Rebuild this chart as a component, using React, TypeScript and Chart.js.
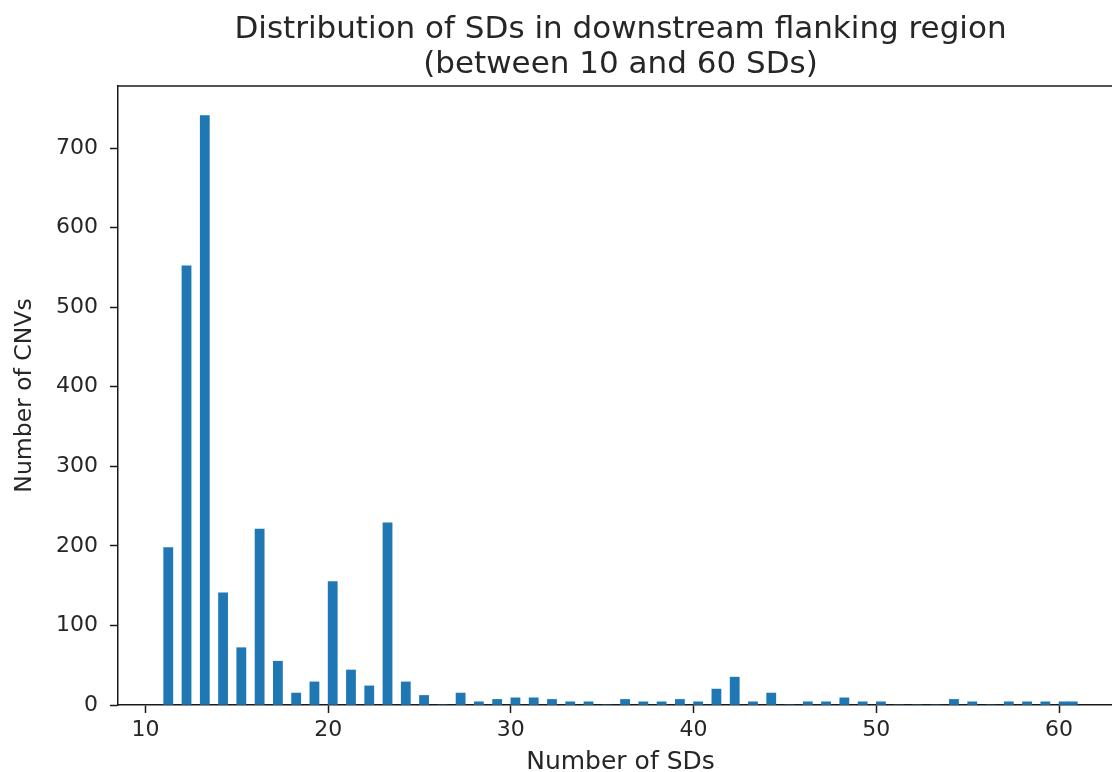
import React, { useEffect, useRef } from "react";
import { Chart, registerables } from "chart.js";

Chart.register(...registerables);

const sdValues = [11, 12, 13, 14, 15, 16, 17, 18, 19, 20, 21, 22, 23, 24, 25, 26, 27, 28, 29, 30, 31, 32, 33, 34, 35, 36, 37, 38, 39, 40, 41, 42, 43, 44, 45, 46, 47, 48, 49, 50, 51, 52, 53, 54, 55, 56, 57, 58, 59, 60, 61];
const cnvCounts = [198, 552, 741, 141, 72, 221, 55, 15, 29, 155, 44, 24, 229, 29, 12, 0, 15, 4, 7, 9, 9, 7, 4, 4, 0, 7, 4, 4, 7, 4, 20, 35, 4, 15, 0, 4, 4, 9, 4, 4, 0, 0, 0, 7, 4, 0, 4, 4, 4, 4, 4];
const xTickValues = [10, 20, 30, 40, 50, 60];
const yTickValues = [0, 100, 200, 300, 400, 500, 600, 700];
const titleLines = ["Distribution of SDs in downstream flanking region", "(between 10 and 60 SDs)"];
const xLabel = "Number of SDs";
const yLabel = "Number of CNVs";

// histogram binning (100 bins between min and max of the data)
const binCount = 100;
const dataMin = Math.min(...sdValues);
const dataMax = Math.max(...sdValues);
const binWidth = (dataMax - dataMin) / binCount;
const binCenter = (v: number) => {
  const idx = Math.min(Math.floor((v - dataMin) / binWidth), binCount - 1);
  return dataMin + (idx + 0.5) * binWidth;
};
const xMargin = (dataMax - dataMin) * 0.05;
const yMax = Math.max(...cnvCounts) * 1.05;

const FONT = "'DejaVu Sans', sans-serif";
const TEXT = "#262626";
const SPINE = "#1a1a1a";

const framePlugin = {
  id: "frame",
  afterDraw(chart: any) {
    const { ctx, chartArea } = chart;
    ctx.save();
    ctx.strokeStyle = SPINE;
    ctx.lineWidth = 1.5;
    ctx.beginPath();
    ctx.moveTo(chartArea.left, chartArea.top);
    ctx.lineTo(chartArea.right, chartArea.top);
    ctx.lineTo(chartArea.right, chartArea.bottom);
    ctx.stroke();
    ctx.restore();
  },
};

export default function App() {
  const ref = useRef<HTMLCanvasElement>(null);
  useEffect(() => {
    const canvas = ref.current!;
    const chart = new Chart(canvas, {
      type: "bar",
      data: {
        datasets: [
          {
            data: sdValues.map((v, i) => ({ x: binCenter(v), y: cnvCounts[i] })),
            backgroundColor: "#1f77b4",
            borderWidth: 0,
            barPercentage: 1,
            categoryPercentage: 1,
          },
        ],
      },
      options: {
        animation: false,
        responsive: false,
        devicePixelRatio: 1,
        layout: { padding: { left: 0, right: 7, top: 0, bottom: 0 } },
        plugins: {
          legend: { display: false },
          tooltip: { enabled: false },
          title: {
            display: true,
            fullSize: false,
            text: titleLines,
            color: TEXT,
            font: { family: FONT, size: 31, weight: "normal", lineHeight: 1.14 },
            padding: { top: 12, bottom: 3.3 },
          },
        },
        scales: {
          x: {
            type: "linear",
            min: dataMin - xMargin,
            max: dataMax + xMargin,
            offset: false,
            afterBuildTicks: (s: any) => {
              s.ticks = xTickValues.map((value) => ({ value }));
            },
            afterFit: (s: any) => {
              s.height = 67;
            },
            grid: { display: true, drawOnChartArea: false, drawTicks: true, tickLength: 8, tickWidth: 1.5, color: SPINE, offset: false },
            border: { display: true, color: SPINE, width: 1.5 },
            ticks: { color: TEXT, font: { family: FONT, size: 22 }, padding: 4, maxRotation: 0 },
            title: { display: true, text: xLabel, color: TEXT, font: { family: FONT, size: 25, lineHeight: 0.8 }, padding: { top: 0, bottom: 0 } },
          },
          y: {
            type: "linear",
            min: 0,
            max: yMax,
            afterBuildTicks: (s: any) => {
              s.ticks = yTickValues.map((value) => ({ value }));
            },
            afterFit: (s: any) => {
              s.width = 118;
            },
            grid: { display: true, drawOnChartArea: false, drawTicks: true, tickLength: 8, tickWidth: 1.5, color: SPINE },
            border: { display: true, color: SPINE, width: 1.5 },
            ticks: { color: TEXT, font: { family: FONT, size: 22 }, padding: 12 },
            title: { display: true, text: yLabel, color: TEXT, font: { family: FONT, size: 23.5, lineHeight: 1.2 }, padding: { top: 11, bottom: 0 } },
          },
        },
      },
      plugins: [framePlugin],
    });
    return () => chart.destroy();
  }, []);
  return (
    <div style={{ position: "fixed", left: 0, top: 0, width: 1130, height: 772, background: "#fff" }}>
      <canvas ref={ref} width={1130} height={772} style={{ width: 1130, height: 772, display: "block" }} />
    </div>
  );
}
